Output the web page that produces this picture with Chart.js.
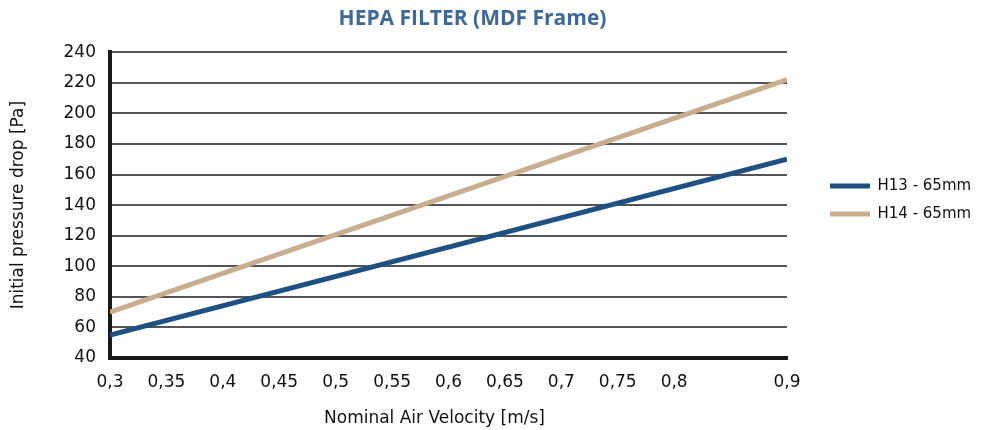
<!DOCTYPE html>
<html>
<head>
<meta charset="utf-8">
<script src="https://cdn.jsdelivr.net/npm/chart.js@4/dist/chart.umd.min.js"></script>
<style>
  html, body { margin: 0; padding: 0; background: #ffffff; }
  #wrap { width: 981px; height: 430px; position: relative; }
</style>
</head>
<body>
<div id="wrap"><canvas id="c" width="981" height="430"></canvas></div>
<script>
// ---- data ----
const chartTitle = 'HEPA FILTER (MDF Frame)';
const xAxisTitle = 'Nominal Air Velocity [m/s]';
const yAxisTitle = 'Initial pressure drop [Pa]';
const seriesNames = ['H13 - 65mm', 'H14 - 65mm'];
const velocity = [0.3, 0.9];
const h13Values = [55, 170];
const h14Values = [70, 222];
const xTickValues = [0.3, 0.35, 0.4, 0.45, 0.5, 0.55, 0.6, 0.65, 0.7, 0.75, 0.8, 0.9];
const yMin = 40, yMax = 240, yStep = 20;

const tickFont = { family: '"DejaVu Sans", sans-serif', size: 17 };

const shiftPlugin = {
  id: 'shiftPlugin',
  afterInit(chart) {
    const lg = chart.legend;
    const origLg = lg.draw;
    lg.draw = function () {
      const ctx = this.ctx; ctx.save(); ctx.translate(30, -5); origLg.apply(this, arguments); ctx.restore();
    };
    const tt = chart.titleBlock;
    if (tt) {
      const origT = tt.draw;
      tt.draw = function () {
        const ctx = this.ctx; ctx.save(); ctx.translate(-18, 0); origT.apply(this, arguments); ctx.restore();
      };
    }
  },
  afterLayout(chart) {
    const sx = chart.scales.x;
    if (!sx._patched) {
      const orig = sx.drawTitle;
      sx.drawTitle = function () {
        const ctx = this.ctx; ctx.save(); ctx.translate(-14, 0); orig.apply(this, arguments); ctx.restore();
      };
      sx._patched = true;
    }
  }
};

new Chart(document.getElementById('c'), {
  type: 'line',
  data: {
    datasets: [
      {
        label: seriesNames[0],
        data: velocity.map((v, i) => ({ x: v, y: h13Values[i] })),
        borderColor: '#1f5082',
        backgroundColor: '#1f5082',
        borderWidth: 5,
        pointRadius: 0,
        tension: 0
      },
      {
        label: seriesNames[1],
        data: velocity.map((v, i) => ({ x: v, y: h14Values[i] })),
        borderColor: '#c8ad8f',
        backgroundColor: '#c8ad8f',
        borderWidth: 5,
        pointRadius: 0,
        tension: 0
      }
    ]
  },
  options: {
    responsive: false,
    animation: false,
    devicePixelRatio: 1,
    layout: { padding: { top: 0, left: 0, right: 0, bottom: 0 } },
    plugins: {
      title: {
        display: true,
        text: chartTitle,
        color: '#3e6898',
        font: { family: '"Open Sans", sans-serif', size: 21, weight: 'bold' },
        padding: { top: 6, bottom: 21 }
      },
      legend: {
        position: 'right',
        align: 'center',
        fullSize: false,
        labels: {
          color: '#111',
          font: { family: '"DejaVu Sans", sans-serif', size: 15 },
          boxWidth: 40,
          boxHeight: 5,
          padding: 13,
          generateLabels(chart) {
            return chart.data.datasets.map((ds, i) => ({
              text: ds.label,
              fillStyle: ds.borderColor,
              strokeStyle: ds.borderColor,
              lineWidth: 0,
              hidden: false,
              datasetIndex: i,
              fontColor: '#111'
            }));
          }
        }
      },
      tooltip: { enabled: false }
    },
    scales: {
      x: {
        type: 'linear',
        min: 0.3,
        max: 0.9,
        afterBuildTicks(scale) { scale.ticks = xTickValues.map(v => ({ value: v })); },
        afterFit(scale) { scale.height = 72; scale.paddingRight = 194; },
        grid: { display: false, drawTicks: false },
        border: { display: true, color: '#1a1a1a', width: 4 },
        ticks: {
          color: '#111',
          font: tickFont,
          padding: 14,
          maxRotation: 0,
          autoSkip: false,
          callback: (v) => String(Number(v.toFixed(2))).replace('.', ',')
        },
        title: {
          display: true,
          text: xAxisTitle,
          color: '#111',
          font: { family: '"DejaVu Sans", sans-serif', size: 17 },
          padding: { top: 4, bottom: 1 }
        }
      },
      y: {
        min: yMin,
        max: yMax,
        afterFit(scale) { scale.width = 110; },
        afterBuildTicks(scale) {
          const t = []; for (let v = yMin; v <= yMax; v += yStep) t.push({ value: v }); scale.ticks = t;
        },
        grid: { color: '#555', lineWidth: 2, drawTicks: false },
        border: { display: true, color: '#1a1a1a', width: 4 },
        ticks: { color: '#111', font: tickFont, padding: 14 },
        title: {
          display: true,
          text: yAxisTitle,
          color: '#111',
          font: { family: '"DejaVu Sans", sans-serif', size: 17 },
          padding: { top: 8, bottom: 0 }
        }
      }
    }
  },
  plugins: [shiftPlugin]
});
</script>
</body>
</html>
